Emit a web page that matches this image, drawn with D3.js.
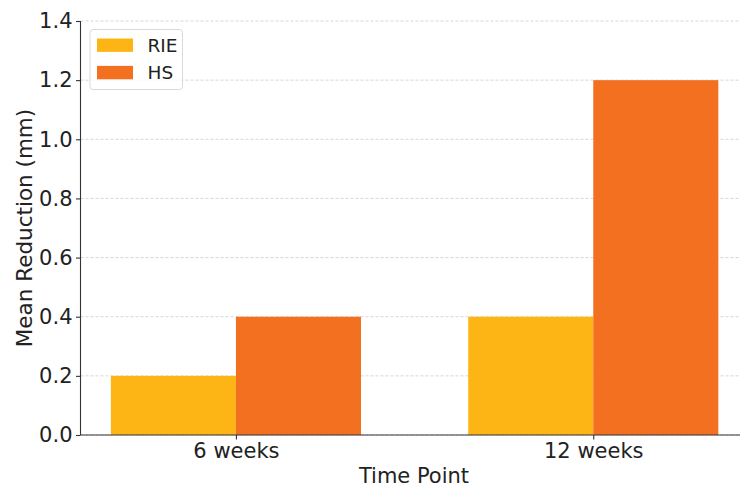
<!DOCTYPE html>
<html>
<head>
<meta charset="utf-8">
<script src="https://cdn.jsdelivr.net/npm/d3@7"></script>
<style>
  html, body { margin: 0; padding: 0; background: #fff; }
  svg { display: block; font-family: "DejaVu Sans", sans-serif; }
</style>
</head>
<body>
<svg id="chart" width="740" height="488"></svg>
<script>
// Mean reduction per time point for the two groups
const timePoints = ["6 weeks", "12 weeks"];
const seriesNames = ["RIE", "HS"];
const rieValues = [0.2, 0.4];
const hsValues = [0.4, 1.2];
const yTicks = [0.0, 0.2, 0.4, 0.6, 0.8, 1.0, 1.2, 1.4];
const seriesColors = ["#FDB515", "#F37021"];

const svg = d3.select("#chart");
const margin = { left: 80.5, top: 21, bottom: 435 };

// Bars sit at integer positions, each 0.35 wide, with 5% padding on either side
const barW = 0.35;
const x = d3.scaleLinear().domain([-0.435, 1.435]).range([margin.left, 748.7]);
const y = d3.scaleLinear().domain([0, 1.4]).range([margin.bottom, margin.top]);

// Horizontal dashed grid
svg.append("g")
  .selectAll("line")
  .data(yTicks)
  .join("line")
  .attr("x1", margin.left).attr("x2", 740)
  .attr("y1", d => y(d)).attr("y2", d => y(d))
  .attr("stroke", "#cccccc")
  .attr("stroke-width", 0.8)
  .attr("stroke-dasharray", "3,2");

// Bars
const series = [rieValues, hsValues];
series.forEach((vals, si) => {
  svg.append("g")
    .selectAll("rect")
    .data(vals)
    .join("rect")
    .attr("x", (d, i) => x(i - barW + si * barW))
    .attr("width", x(barW) - x(0))
    .attr("y", d => y(d))
    .attr("height", d => y(0) - y(d))
    .attr("fill", seriesColors[si]);
});

// Y axis
const yAxis = svg.append("g")
  .attr("transform", `translate(${margin.left},0)`)
  .call(d3.axisLeft(y).tickValues(yTicks).tickFormat(d3.format(".1f")).tickSize(4.5).tickPadding(3.5));
yAxis.select(".domain").attr("stroke", "#333").attr("stroke-width", 1.1).attr("d", `M0,${margin.top}V${margin.bottom}`);
yAxis.selectAll(".tick line").attr("stroke", "#333").attr("stroke-width", 1.1);
yAxis.selectAll(".tick text").attr("font-size", "21px").attr("fill", "#222").attr("font-family", "DejaVu Sans");

// X axis
const xAxis = svg.append("g")
  .attr("transform", `translate(0,${margin.bottom})`)
  .call(d3.axisBottom(x).tickValues([0, 1]).tickFormat(i => timePoints[i]).tickSize(4.5).tickPadding(3.5));
xAxis.select(".domain").attr("stroke", "#333").attr("stroke-width", 1.1).attr("d", `M${margin.left},0H740`);
xAxis.selectAll(".tick line").attr("stroke", "#333").attr("stroke-width", 1.1);
xAxis.selectAll(".tick text").attr("font-size", "21px").attr("fill", "#222").attr("font-family", "DejaVu Sans");

// Axis titles
svg.append("text")
  .attr("x", 414).attr("y", 483)
  .attr("text-anchor", "middle")
  .attr("font-size", "21px").attr("fill", "#222")
  .text("Time Point");
svg.append("text")
  .attr("transform", `translate(32,${(margin.top + margin.bottom) / 2}) rotate(-90)`)
  .attr("text-anchor", "middle")
  .attr("font-size", "21.5px").attr("fill", "#222")
  .text("Mean Reduction (mm)");

// Legend
const legend = svg.append("g").attr("transform", "translate(90,29.5)");
legend.append("rect")
  .attr("width", 92.5).attr("height", 60).attr("rx", 3)
  .attr("fill", "#fff").attr("fill-opacity", 0.8)
  .attr("stroke", "#d9d9d9");
seriesNames.forEach((name, i) => {
  const g = legend.append("g").attr("transform", `translate(7,${9 + i * 27.4})`);
  g.append("rect").attr("width", 36).attr("height", 13.4).attr("fill", seriesColors[i]);
  g.append("text").attr("x", 50.5).attr("y", 13.4).attr("font-size", "18.5px").attr("fill", "#222").text(name);
});
</script>
</body>
</html>
